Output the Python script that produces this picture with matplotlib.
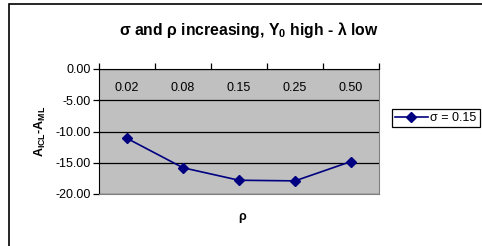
import matplotlib
matplotlib.use('Agg')
import matplotlib.pyplot as plt
from matplotlib.patches import Rectangle
import matplotlib.transforms as mtransforms

plt.rcParams['font.family'] = ['Liberation Sans', 'DejaVu Sans']
plt.rcParams['mathtext.fontset'] = 'custom'
plt.rcParams['mathtext.rm'] = 'Liberation Sans'
plt.rcParams['mathtext.bf'] = 'Liberation Sans:bold'

rho_labels = ['0.02', '0.08', '0.15', '0.25', '0.50']
diff = [-11.1, -15.8, -17.8, -17.9, -14.8]
series_name = 'σ = 0.15'

W, H = 482, 246
fig = plt.figure(figsize=(W / 100, H / 100), dpi=100)
ax = fig.add_axes([99 / W, 1 - 194 / H, 280 / W, 125 / H])

x = list(range(len(rho_labels)))
ax.plot(x, diff, color='#000080', lw=1.2, marker='D', ms=5.5, label=series_name)

ax.set_facecolor('#c0c0c0')
ax.set_xlim(-0.5, len(rho_labels) - 0.5)
ax.set_ylim(-20, 0)
ax.set_yticks([0, -5, -10, -15, -20])
ax.set_yticklabels([f'{v:.2f}' for v in [0, -5, -10, -15, -20]], fontsize=9)
ax.yaxis.grid(True, color='black', lw=0.9)
ax.set_axisbelow(True)

# category boundaries as ticks on the top axis
ax.set_xticks([i - 0.5 for i in range(len(rho_labels) + 1)])
ax.xaxis.tick_top()
ax.tick_params(axis='x', labeltop=False, length=4, width=0.9)
ax.tick_params(axis='y', length=4, width=0.9, pad=2)
trans = mtransforms.blended_transform_factory(ax.transData, ax.transAxes)
for i, lab in enumerate(rho_labels):
    ax.text(i, 0.85, lab, transform=trans, ha='center', va='center', fontsize=9)

for s in ['right', 'bottom']:
    ax.spines[s].set_color('#808080')
ax.spines['top'].set_color('black')
ax.spines['left'].set_color('black')

fig.text(249 / W, 1 - 30 / H, 'σ and ρ increasing, Y$_\\mathbf{0}$ high - λ low',
         ha='center', va='center', fontsize=11.3, fontweight='bold')
fig.text(40 / W, 1 - 131 / H, 'A$_\\mathbf{ICL}$-A$_\\mathbf{ML}$', rotation=90,
         ha='center', va='center', fontsize=9, fontweight='bold')
fig.text(242 / W, 1 - 217 / H, 'ρ', ha='center', va='center', fontsize=9, fontweight='bold')

leg = fig.legend(loc='upper left', bbox_to_anchor=(392 / W, 1 - 109 / H), fontsize=9,
                 fancybox=False, edgecolor='black', framealpha=1, handlelength=2.6,
                 borderpad=0.25, handletextpad=0.2, borderaxespad=0)
leg.get_frame().set_linewidth(0.9)

fig.patches.append(Rectangle((9 / W, -0.1), 1.0, 0.1 + 1 - 4 / H, transform=fig.transFigure,
                             fill=False, edgecolor='black', lw=1.2))

fig.savefig('out.png', dpi=100)
